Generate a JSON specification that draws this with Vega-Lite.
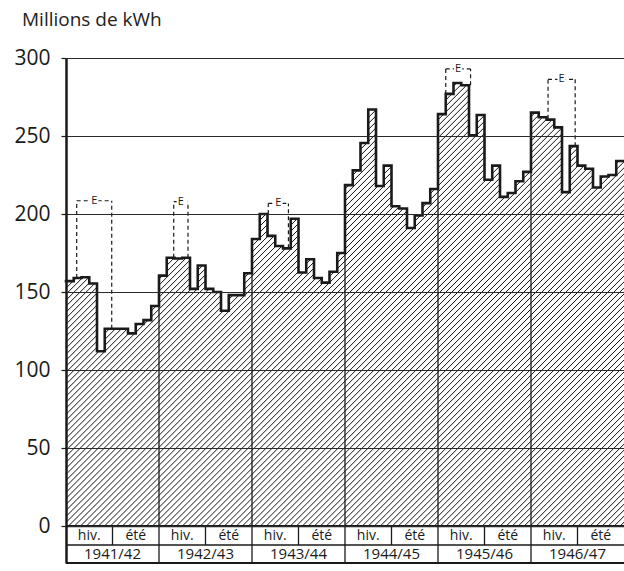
{
"$schema": "https://vega.github.io/schema/vega-lite/v6.json",
"width": 558,
"height": 505,
"autosize": {"type": "none"},
"padding": {"left": 66, "top": 58, "right": 0, "bottom": 8},
"background": "white",
"config": {"view": {"stroke": null}, "font": "Open Sans"},
"title": {"text": "Millions de kWh", "anchor": "start", "frame": "group", "dx": -44, "offset": 17, "fontSize": 19, "fontWeight": "normal", "color": "#222", "font": "Open Sans"},
"datasets": {
"months": [
{"month":"1941-10","start":0,"end":1,"value":157},
{"month":"1941-11","start":1,"end":2,"value":159},
{"month":"1941-12","start":2,"end":3,"value":159.5},
{"month":"1942-01","start":3,"end":4,"value":155.5},
{"month":"1942-02","start":4,"end":5,"value":112},
{"month":"1942-03","start":5,"end":6,"value":126.5},
{"month":"1942-04","start":6,"end":7,"value":126.5},
{"month":"1942-05","start":7,"end":8,"value":126.5},
{"month":"1942-06","start":8,"end":9,"value":123.5},
{"month":"1942-07","start":9,"end":10,"value":129.5},
{"month":"1942-08","start":10,"end":11,"value":132},
{"month":"1942-09","start":11,"end":12,"value":141},
{"month":"1942-10","start":12,"end":13,"value":160.5},
{"month":"1942-11","start":13,"end":14,"value":172},
{"month":"1942-12","start":14,"end":15,"value":171.5},
{"month":"1943-01","start":15,"end":16,"value":172},
{"month":"1943-02","start":16,"end":17,"value":152},
{"month":"1943-03","start":17,"end":18,"value":167},
{"month":"1943-04","start":18,"end":19,"value":152},
{"month":"1943-05","start":19,"end":20,"value":150},
{"month":"1943-06","start":20,"end":21,"value":138},
{"month":"1943-07","start":21,"end":22,"value":148},
{"month":"1943-08","start":22,"end":23,"value":148},
{"month":"1943-09","start":23,"end":24,"value":162},
{"month":"1943-10","start":24,"end":25,"value":184},
{"month":"1943-11","start":25,"end":26,"value":200},
{"month":"1943-12","start":26,"end":27,"value":186},
{"month":"1944-01","start":27,"end":28,"value":179.5},
{"month":"1944-02","start":28,"end":29,"value":178},
{"month":"1944-03","start":29,"end":30,"value":197},
{"month":"1944-04","start":30,"end":31,"value":162.5},
{"month":"1944-05","start":31,"end":32,"value":171},
{"month":"1944-06","start":32,"end":33,"value":159},
{"month":"1944-07","start":33,"end":34,"value":156},
{"month":"1944-08","start":34,"end":35,"value":163},
{"month":"1944-09","start":35,"end":36,"value":175},
{"month":"1944-10","start":36,"end":37,"value":218.5},
{"month":"1944-11","start":37,"end":38,"value":228},
{"month":"1944-12","start":38,"end":39,"value":245.5},
{"month":"1945-01","start":39,"end":40,"value":267},
{"month":"1945-02","start":40,"end":41,"value":218},
{"month":"1945-03","start":41,"end":42,"value":231},
{"month":"1945-04","start":42,"end":43,"value":205},
{"month":"1945-05","start":43,"end":44,"value":203.5},
{"month":"1945-06","start":44,"end":45,"value":191},
{"month":"1945-07","start":45,"end":46,"value":199},
{"month":"1945-08","start":46,"end":47,"value":207},
{"month":"1945-09","start":47,"end":48,"value":216},
{"month":"1945-10","start":48,"end":49,"value":264},
{"month":"1945-11","start":49,"end":50,"value":277},
{"month":"1945-12","start":50,"end":51,"value":284},
{"month":"1946-01","start":51,"end":52,"value":282.5},
{"month":"1946-02","start":52,"end":53,"value":250.5},
{"month":"1946-03","start":53,"end":54,"value":263.5},
{"month":"1946-04","start":54,"end":55,"value":222},
{"month":"1946-05","start":55,"end":56,"value":231},
{"month":"1946-06","start":56,"end":57,"value":211},
{"month":"1946-07","start":57,"end":58,"value":213.5},
{"month":"1946-08","start":58,"end":59,"value":221},
{"month":"1946-09","start":59,"end":60,"value":227},
{"month":"1946-10","start":60,"end":61,"value":265},
{"month":"1946-11","start":61,"end":62,"value":262},
{"month":"1946-12","start":62,"end":63,"value":260.5},
{"month":"1947-01","start":63,"end":64,"value":255.5},
{"month":"1947-02","start":64,"end":65,"value":214},
{"month":"1947-03","start":65,"end":66,"value":243.5},
{"month":"1947-04","start":66,"end":67,"value":231},
{"month":"1947-05","start":67,"end":68,"value":229},
{"month":"1947-06","start":68,"end":69,"value":217},
{"month":"1947-07","start":69,"end":70,"value":224},
{"month":"1947-08","start":70,"end":71,"value":225},
{"month":"1947-09","start":71,"end":72,"value":234}
],
"years": [
{"year":"1941/42","mid":6,"hiv":3,"ete":9},
{"year":"1942/43","mid":18,"hiv":15,"ete":21},
{"year":"1943/44","mid":30,"hiv":27,"ete":33},
{"year":"1944/45","mid":42,"hiv":39,"ete":45},
{"year":"1945/46","mid":54,"hiv":51,"ete":57},
{"year":"1946/47","mid":66,"hiv":63,"ete":69}
],
"bounds": [
{"x":12,"top":141},
{"x":24,"top":162},
{"x":36,"top":175},
{"x":48,"top":216},
{"x":60,"top":227}
],
"ebox": [
{"x1":1.38,"x2":5.9,"xm":3.64,"top":208.5,"b1":159,"b2":126.5},
{"x1":13.9,"x2":15.74,"xm":14.82,"top":207.9,"b1":172,"b2":172},
{"x1":26.1,"x2":28.7,"xm":27.4,"top":206.8,"b1":200,"b2":178},
{"x1":49.0,"x2":52.2,"xm":50.6,"top":293,"b1":277,"b2":282.5},
{"x1":62.2,"x2":65.7,"xm":63.95,"top":286.3,"b1":261,"b2":243.5}
]
},
"layer": [
{
"data": {"name": "months"},
"transform": [{"fold": ["start", "end"], "as": ["edge", "x"]}],
"mark": {"type": "area", "orient": "vertical", "line": false, "opacity": 1, "fill": {"gradient": "linear", "x1": 0, "y1": 0, "x2": 1.1, "y2": 0.872, "stops": [
{"offset":0,"color":"#fff"},{"offset":0.001,"color":"#111"},{"offset":0.002,"color":"#fff"},
{"offset":0.006,"color":"#fff"},{"offset":0.007,"color":"#111"},{"offset":0.008,"color":"#fff"},
{"offset":0.012,"color":"#fff"},{"offset":0.013,"color":"#111"},{"offset":0.014,"color":"#fff"},
{"offset":0.018,"color":"#fff"},{"offset":0.019,"color":"#111"},{"offset":0.02,"color":"#fff"},
{"offset":0.024,"color":"#fff"},{"offset":0.025,"color":"#111"},{"offset":0.026,"color":"#fff"},
{"offset":0.03,"color":"#fff"},{"offset":0.031,"color":"#111"},{"offset":0.032,"color":"#fff"},
{"offset":0.036,"color":"#fff"},{"offset":0.037,"color":"#111"},{"offset":0.038,"color":"#fff"},
{"offset":0.042,"color":"#fff"},{"offset":0.043,"color":"#111"},{"offset":0.044,"color":"#fff"},
{"offset":0.048,"color":"#fff"},{"offset":0.049,"color":"#111"},{"offset":0.05,"color":"#fff"},
{"offset":0.054,"color":"#fff"},{"offset":0.055,"color":"#111"},{"offset":0.056,"color":"#fff"},
{"offset":0.06,"color":"#fff"},{"offset":0.061,"color":"#111"},{"offset":0.062,"color":"#fff"},
{"offset":0.066,"color":"#fff"},{"offset":0.067,"color":"#111"},{"offset":0.068,"color":"#fff"},
{"offset":0.072,"color":"#fff"},{"offset":0.073,"color":"#111"},{"offset":0.074,"color":"#fff"},
{"offset":0.078,"color":"#fff"},{"offset":0.079,"color":"#111"},{"offset":0.08,"color":"#fff"},
{"offset":0.084,"color":"#fff"},{"offset":0.085,"color":"#111"},{"offset":0.086,"color":"#fff"},
{"offset":0.09,"color":"#fff"},{"offset":0.091,"color":"#111"},{"offset":0.092,"color":"#fff"},
{"offset":0.096,"color":"#fff"},{"offset":0.097,"color":"#111"},{"offset":0.098,"color":"#fff"},
{"offset":0.102,"color":"#fff"},{"offset":0.103,"color":"#111"},{"offset":0.104,"color":"#fff"},
{"offset":0.108,"color":"#fff"},{"offset":0.109,"color":"#111"},{"offset":0.11,"color":"#fff"},
{"offset":0.114,"color":"#fff"},{"offset":0.115,"color":"#111"},{"offset":0.116,"color":"#fff"},
{"offset":0.12,"color":"#fff"},{"offset":0.121,"color":"#111"},{"offset":0.122,"color":"#fff"},
{"offset":0.126,"color":"#fff"},{"offset":0.127,"color":"#111"},{"offset":0.128,"color":"#fff"},
{"offset":0.132,"color":"#fff"},{"offset":0.133,"color":"#111"},{"offset":0.134,"color":"#fff"},
{"offset":0.138,"color":"#fff"},{"offset":0.139,"color":"#111"},{"offset":0.14,"color":"#fff"},
{"offset":0.144,"color":"#fff"},{"offset":0.145,"color":"#111"},{"offset":0.146,"color":"#fff"},
{"offset":0.15,"color":"#fff"},{"offset":0.151,"color":"#111"},{"offset":0.152,"color":"#fff"},
{"offset":0.156,"color":"#fff"},{"offset":0.157,"color":"#111"},{"offset":0.158,"color":"#fff"},
{"offset":0.162,"color":"#fff"},{"offset":0.163,"color":"#111"},{"offset":0.164,"color":"#fff"},
{"offset":0.168,"color":"#fff"},{"offset":0.169,"color":"#111"},{"offset":0.17,"color":"#fff"},
{"offset":0.174,"color":"#fff"},{"offset":0.175,"color":"#111"},{"offset":0.176,"color":"#fff"},
{"offset":0.18,"color":"#fff"},{"offset":0.181,"color":"#111"},{"offset":0.182,"color":"#fff"},
{"offset":0.186,"color":"#fff"},{"offset":0.187,"color":"#111"},{"offset":0.188,"color":"#fff"},
{"offset":0.192,"color":"#fff"},{"offset":0.193,"color":"#111"},{"offset":0.194,"color":"#fff"},
{"offset":0.198,"color":"#fff"},{"offset":0.199,"color":"#111"},{"offset":0.2,"color":"#fff"},
{"offset":0.204,"color":"#fff"},{"offset":0.205,"color":"#111"},{"offset":0.206,"color":"#fff"},
{"offset":0.21,"color":"#fff"},{"offset":0.211,"color":"#111"},{"offset":0.212,"color":"#fff"},
{"offset":0.216,"color":"#fff"},{"offset":0.217,"color":"#111"},{"offset":0.218,"color":"#fff"},
{"offset":0.222,"color":"#fff"},{"offset":0.223,"color":"#111"},{"offset":0.224,"color":"#fff"},
{"offset":0.228,"color":"#fff"},{"offset":0.229,"color":"#111"},{"offset":0.23,"color":"#fff"},
{"offset":0.234,"color":"#fff"},{"offset":0.235,"color":"#111"},{"offset":0.236,"color":"#fff"},
{"offset":0.24,"color":"#fff"},{"offset":0.241,"color":"#111"},{"offset":0.242,"color":"#fff"},
{"offset":0.246,"color":"#fff"},{"offset":0.247,"color":"#111"},{"offset":0.248,"color":"#fff"},
{"offset":0.252,"color":"#fff"},{"offset":0.253,"color":"#111"},{"offset":0.254,"color":"#fff"},
{"offset":0.258,"color":"#fff"},{"offset":0.259,"color":"#111"},{"offset":0.26,"color":"#fff"},
{"offset":0.264,"color":"#fff"},{"offset":0.265,"color":"#111"},{"offset":0.266,"color":"#fff"},
{"offset":0.27,"color":"#fff"},{"offset":0.271,"color":"#111"},{"offset":0.272,"color":"#fff"},
{"offset":0.276,"color":"#fff"},{"offset":0.277,"color":"#111"},{"offset":0.278,"color":"#fff"},
{"offset":0.282,"color":"#fff"},{"offset":0.283,"color":"#111"},{"offset":0.284,"color":"#fff"},
{"offset":0.288,"color":"#fff"},{"offset":0.289,"color":"#111"},{"offset":0.29,"color":"#fff"},
{"offset":0.294,"color":"#fff"},{"offset":0.295,"color":"#111"},{"offset":0.296,"color":"#fff"},
{"offset":0.3,"color":"#fff"},{"offset":0.301,"color":"#111"},{"offset":0.302,"color":"#fff"},
{"offset":0.306,"color":"#fff"},{"offset":0.307,"color":"#111"},{"offset":0.308,"color":"#fff"},
{"offset":0.312,"color":"#fff"},{"offset":0.313,"color":"#111"},{"offset":0.314,"color":"#fff"},
{"offset":0.318,"color":"#fff"},{"offset":0.319,"color":"#111"},{"offset":0.32,"color":"#fff"},
{"offset":0.324,"color":"#fff"},{"offset":0.325,"color":"#111"},{"offset":0.326,"color":"#fff"},
{"offset":0.33,"color":"#fff"},{"offset":0.331,"color":"#111"},{"offset":0.332,"color":"#fff"},
{"offset":0.336,"color":"#fff"},{"offset":0.337,"color":"#111"},{"offset":0.338,"color":"#fff"},
{"offset":0.342,"color":"#fff"},{"offset":0.343,"color":"#111"},{"offset":0.344,"color":"#fff"},
{"offset":0.348,"color":"#fff"},{"offset":0.349,"color":"#111"},{"offset":0.35,"color":"#fff"},
{"offset":0.354,"color":"#fff"},{"offset":0.355,"color":"#111"},{"offset":0.356,"color":"#fff"},
{"offset":0.36,"color":"#fff"},{"offset":0.361,"color":"#111"},{"offset":0.362,"color":"#fff"},
{"offset":0.366,"color":"#fff"},{"offset":0.367,"color":"#111"},{"offset":0.368,"color":"#fff"},
{"offset":0.372,"color":"#fff"},{"offset":0.373,"color":"#111"},{"offset":0.374,"color":"#fff"},
{"offset":0.378,"color":"#fff"},{"offset":0.379,"color":"#111"},{"offset":0.38,"color":"#fff"},
{"offset":0.384,"color":"#fff"},{"offset":0.385,"color":"#111"},{"offset":0.386,"color":"#fff"},
{"offset":0.39,"color":"#fff"},{"offset":0.391,"color":"#111"},{"offset":0.392,"color":"#fff"},
{"offset":0.396,"color":"#fff"},{"offset":0.397,"color":"#111"},{"offset":0.398,"color":"#fff"},
{"offset":0.402,"color":"#fff"},{"offset":0.403,"color":"#111"},{"offset":0.404,"color":"#fff"},
{"offset":0.408,"color":"#fff"},{"offset":0.409,"color":"#111"},{"offset":0.41,"color":"#fff"},
{"offset":0.414,"color":"#fff"},{"offset":0.415,"color":"#111"},{"offset":0.416,"color":"#fff"},
{"offset":0.42,"color":"#fff"},{"offset":0.421,"color":"#111"},{"offset":0.422,"color":"#fff"},
{"offset":0.426,"color":"#fff"},{"offset":0.427,"color":"#111"},{"offset":0.428,"color":"#fff"},
{"offset":0.432,"color":"#fff"},{"offset":0.433,"color":"#111"},{"offset":0.434,"color":"#fff"},
{"offset":0.438,"color":"#fff"},{"offset":0.439,"color":"#111"},{"offset":0.44,"color":"#fff"},
{"offset":0.444,"color":"#fff"},{"offset":0.445,"color":"#111"},{"offset":0.446,"color":"#fff"},
{"offset":0.45,"color":"#fff"},{"offset":0.451,"color":"#111"},{"offset":0.452,"color":"#fff"},
{"offset":0.456,"color":"#fff"},{"offset":0.457,"color":"#111"},{"offset":0.458,"color":"#fff"},
{"offset":0.462,"color":"#fff"},{"offset":0.463,"color":"#111"},{"offset":0.464,"color":"#fff"},
{"offset":0.468,"color":"#fff"},{"offset":0.469,"color":"#111"},{"offset":0.47,"color":"#fff"},
{"offset":0.474,"color":"#fff"},{"offset":0.475,"color":"#111"},{"offset":0.476,"color":"#fff"},
{"offset":0.48,"color":"#fff"},{"offset":0.481,"color":"#111"},{"offset":0.482,"color":"#fff"},
{"offset":0.486,"color":"#fff"},{"offset":0.487,"color":"#111"},{"offset":0.488,"color":"#fff"},
{"offset":0.492,"color":"#fff"},{"offset":0.493,"color":"#111"},{"offset":0.494,"color":"#fff"},
{"offset":0.498,"color":"#fff"},{"offset":0.499,"color":"#111"},{"offset":0.5,"color":"#fff"},
{"offset":0.504,"color":"#fff"},{"offset":0.505,"color":"#111"},{"offset":0.506,"color":"#fff"},
{"offset":0.51,"color":"#fff"},{"offset":0.511,"color":"#111"},{"offset":0.512,"color":"#fff"},
{"offset":0.516,"color":"#fff"},{"offset":0.517,"color":"#111"},{"offset":0.518,"color":"#fff"},
{"offset":0.522,"color":"#fff"},{"offset":0.523,"color":"#111"},{"offset":0.524,"color":"#fff"},
{"offset":0.528,"color":"#fff"},{"offset":0.529,"color":"#111"},{"offset":0.53,"color":"#fff"},
{"offset":0.534,"color":"#fff"},{"offset":0.535,"color":"#111"},{"offset":0.536,"color":"#fff"},
{"offset":0.54,"color":"#fff"},{"offset":0.541,"color":"#111"},{"offset":0.542,"color":"#fff"},
{"offset":0.546,"color":"#fff"},{"offset":0.547,"color":"#111"},{"offset":0.548,"color":"#fff"},
{"offset":0.552,"color":"#fff"},{"offset":0.553,"color":"#111"},{"offset":0.554,"color":"#fff"},
{"offset":0.558,"color":"#fff"},{"offset":0.559,"color":"#111"},{"offset":0.56,"color":"#fff"},
{"offset":0.564,"color":"#fff"},{"offset":0.565,"color":"#111"},{"offset":0.566,"color":"#fff"},
{"offset":0.57,"color":"#fff"},{"offset":0.571,"color":"#111"},{"offset":0.572,"color":"#fff"},
{"offset":0.576,"color":"#fff"},{"offset":0.577,"color":"#111"},{"offset":0.578,"color":"#fff"},
{"offset":0.582,"color":"#fff"},{"offset":0.583,"color":"#111"},{"offset":0.584,"color":"#fff"},
{"offset":0.588,"color":"#fff"},{"offset":0.589,"color":"#111"},{"offset":0.59,"color":"#fff"},
{"offset":0.594,"color":"#fff"},{"offset":0.595,"color":"#111"},{"offset":0.596,"color":"#fff"},
{"offset":0.6,"color":"#fff"},{"offset":0.601,"color":"#111"},{"offset":0.602,"color":"#fff"},
{"offset":0.606,"color":"#fff"},{"offset":0.607,"color":"#111"},{"offset":0.608,"color":"#fff"},
{"offset":0.612,"color":"#fff"},{"offset":0.613,"color":"#111"},{"offset":0.614,"color":"#fff"},
{"offset":0.618,"color":"#fff"},{"offset":0.619,"color":"#111"},{"offset":0.62,"color":"#fff"},
{"offset":0.624,"color":"#fff"},{"offset":0.625,"color":"#111"},{"offset":0.626,"color":"#fff"},
{"offset":0.63,"color":"#fff"},{"offset":0.631,"color":"#111"},{"offset":0.632,"color":"#fff"},
{"offset":0.636,"color":"#fff"},{"offset":0.637,"color":"#111"},{"offset":0.638,"color":"#fff"},
{"offset":0.642,"color":"#fff"},{"offset":0.643,"color":"#111"},{"offset":0.644,"color":"#fff"},
{"offset":0.648,"color":"#fff"},{"offset":0.649,"color":"#111"},{"offset":0.65,"color":"#fff"},
{"offset":0.654,"color":"#fff"},{"offset":0.655,"color":"#111"},{"offset":0.656,"color":"#fff"},
{"offset":0.66,"color":"#fff"},{"offset":0.661,"color":"#111"},{"offset":0.662,"color":"#fff"},
{"offset":0.666,"color":"#fff"},{"offset":0.667,"color":"#111"},{"offset":0.668,"color":"#fff"},
{"offset":0.672,"color":"#fff"},{"offset":0.673,"color":"#111"},{"offset":0.674,"color":"#fff"},
{"offset":0.678,"color":"#fff"},{"offset":0.679,"color":"#111"},{"offset":0.68,"color":"#fff"},
{"offset":0.684,"color":"#fff"},{"offset":0.685,"color":"#111"},{"offset":0.686,"color":"#fff"},
{"offset":0.69,"color":"#fff"},{"offset":0.691,"color":"#111"},{"offset":0.692,"color":"#fff"},
{"offset":0.696,"color":"#fff"},{"offset":0.697,"color":"#111"},{"offset":0.698,"color":"#fff"},
{"offset":0.702,"color":"#fff"},{"offset":0.703,"color":"#111"},{"offset":0.704,"color":"#fff"},
{"offset":0.708,"color":"#fff"},{"offset":0.709,"color":"#111"},{"offset":0.71,"color":"#fff"},
{"offset":0.714,"color":"#fff"},{"offset":0.715,"color":"#111"},{"offset":0.716,"color":"#fff"},
{"offset":0.72,"color":"#fff"},{"offset":0.721,"color":"#111"},{"offset":0.722,"color":"#fff"},
{"offset":0.726,"color":"#fff"},{"offset":0.727,"color":"#111"},{"offset":0.728,"color":"#fff"},
{"offset":0.732,"color":"#fff"},{"offset":0.733,"color":"#111"},{"offset":0.734,"color":"#fff"},
{"offset":0.738,"color":"#fff"},{"offset":0.739,"color":"#111"},{"offset":0.74,"color":"#fff"},
{"offset":0.744,"color":"#fff"},{"offset":0.745,"color":"#111"},{"offset":0.746,"color":"#fff"},
{"offset":0.75,"color":"#fff"},{"offset":0.751,"color":"#111"},{"offset":0.752,"color":"#fff"},
{"offset":0.756,"color":"#fff"},{"offset":0.757,"color":"#111"},{"offset":0.758,"color":"#fff"},
{"offset":0.762,"color":"#fff"},{"offset":0.763,"color":"#111"},{"offset":0.764,"color":"#fff"},
{"offset":0.768,"color":"#fff"},{"offset":0.769,"color":"#111"},{"offset":0.77,"color":"#fff"},
{"offset":0.774,"color":"#fff"},{"offset":0.775,"color":"#111"},{"offset":0.776,"color":"#fff"},
{"offset":0.78,"color":"#fff"},{"offset":0.781,"color":"#111"},{"offset":0.782,"color":"#fff"},
{"offset":0.786,"color":"#fff"},{"offset":0.787,"color":"#111"},{"offset":0.788,"color":"#fff"},
{"offset":0.792,"color":"#fff"},{"offset":0.793,"color":"#111"},{"offset":0.794,"color":"#fff"},
{"offset":0.798,"color":"#fff"},{"offset":0.799,"color":"#111"},{"offset":0.8,"color":"#fff"},
{"offset":0.804,"color":"#fff"},{"offset":0.805,"color":"#111"},{"offset":0.806,"color":"#fff"},
{"offset":0.81,"color":"#fff"},{"offset":0.811,"color":"#111"},{"offset":0.812,"color":"#fff"},
{"offset":0.816,"color":"#fff"},{"offset":0.817,"color":"#111"},{"offset":0.818,"color":"#fff"},
{"offset":0.822,"color":"#fff"},{"offset":0.823,"color":"#111"},{"offset":0.824,"color":"#fff"},
{"offset":0.828,"color":"#fff"},{"offset":0.829,"color":"#111"},{"offset":0.83,"color":"#fff"},
{"offset":0.834,"color":"#fff"},{"offset":0.835,"color":"#111"},{"offset":0.836,"color":"#fff"},
{"offset":0.84,"color":"#fff"},{"offset":0.841,"color":"#111"},{"offset":0.842,"color":"#fff"},
{"offset":0.846,"color":"#fff"},{"offset":0.847,"color":"#111"},{"offset":0.848,"color":"#fff"},
{"offset":0.852,"color":"#fff"},{"offset":0.853,"color":"#111"},{"offset":0.854,"color":"#fff"},
{"offset":0.858,"color":"#fff"},{"offset":0.859,"color":"#111"},{"offset":0.86,"color":"#fff"},
{"offset":0.864,"color":"#fff"},{"offset":0.865,"color":"#111"},{"offset":0.866,"color":"#fff"},
{"offset":0.87,"color":"#fff"},{"offset":0.871,"color":"#111"},{"offset":0.872,"color":"#fff"},
{"offset":0.876,"color":"#fff"},{"offset":0.877,"color":"#111"},{"offset":0.878,"color":"#fff"},
{"offset":0.882,"color":"#fff"},{"offset":0.883,"color":"#111"},{"offset":0.884,"color":"#fff"},
{"offset":0.888,"color":"#fff"},{"offset":0.889,"color":"#111"},{"offset":0.89,"color":"#fff"},
{"offset":0.894,"color":"#fff"},{"offset":0.895,"color":"#111"},{"offset":0.896,"color":"#fff"},
{"offset":0.9,"color":"#fff"},{"offset":0.901,"color":"#111"},{"offset":0.902,"color":"#fff"},
{"offset":0.906,"color":"#fff"},{"offset":0.907,"color":"#111"},{"offset":0.908,"color":"#fff"},
{"offset":0.912,"color":"#fff"},{"offset":0.913,"color":"#111"},{"offset":0.914,"color":"#fff"},
{"offset":0.918,"color":"#fff"},{"offset":0.919,"color":"#111"},{"offset":0.92,"color":"#fff"},
{"offset":0.924,"color":"#fff"},{"offset":0.925,"color":"#111"},{"offset":0.926,"color":"#fff"},
{"offset":0.93,"color":"#fff"},{"offset":0.931,"color":"#111"},{"offset":0.932,"color":"#fff"},
{"offset":0.936,"color":"#fff"},{"offset":0.937,"color":"#111"},{"offset":0.938,"color":"#fff"},
{"offset":0.942,"color":"#fff"},{"offset":0.943,"color":"#111"},{"offset":0.944,"color":"#fff"},
{"offset":0.948,"color":"#fff"},{"offset":0.949,"color":"#111"},{"offset":0.95,"color":"#fff"},
{"offset":0.954,"color":"#fff"},{"offset":0.955,"color":"#111"},{"offset":0.956,"color":"#fff"},
{"offset":0.96,"color":"#fff"},{"offset":0.961,"color":"#111"},{"offset":0.962,"color":"#fff"},
{"offset":0.966,"color":"#fff"},{"offset":0.967,"color":"#111"},{"offset":0.968,"color":"#fff"},
{"offset":0.972,"color":"#fff"},{"offset":0.973,"color":"#111"},{"offset":0.974,"color":"#fff"},
{"offset":0.978,"color":"#fff"},{"offset":0.979,"color":"#111"},{"offset":0.98,"color":"#fff"},
{"offset":0.984,"color":"#fff"},{"offset":0.985,"color":"#111"},{"offset":0.986,"color":"#fff"},
{"offset":0.99,"color":"#fff"},{"offset":0.991,"color":"#111"},{"offset":0.992,"color":"#fff"},
{"offset":0.996,"color":"#fff"},{"offset":0.997,"color":"#111"},{"offset":0.998,"color":"#fff"}
]}},
"encoding": {
"x": {"field": "x", "type": "quantitative", "scale": {"domain": [0, 72], "nice": false, "zero": false}, "axis": null},
"y": {"field": "value", "type": "quantitative", "stack": null, "scale": {"domain": [-23.7, 300], "nice": false, "zero": false},
"axis": {"title": null, "values": [0, 50, 100, 150, 200, 250, 300], "grid": true, "gridColor": "#2a2a2a", "gridWidth": 1.1, "gridOpacity": 1, "domain": true, "domainColor": "#1a1a1a", "domainWidth": 2.5, "ticks": true, "tickSize": 5, "tickColor": "#1a1a1a", "tickWidth": 1.2, "labelFontSize": 21, "labelFont": "Open Sans", "labelColor": "#1a1a1a", "labelPadding": 11, "labelFlush": false, "labelOverlap": false, "zindex": 1}},
"y2": {"datum": 0}
}
},
{
"data": {"name": "bounds"},
"mark": {"type": "rule", "color": "#1a1a1a", "strokeWidth": 1.3},
"encoding": {
"x": {"field": "x", "type": "quantitative", "axis": null},
"y": {"field": "top", "type": "quantitative"},
"y2": {"datum": -23.7}
}
},
{
"data": {"name": "months"},
"transform": [{"fold": ["start", "end"], "as": ["edge", "x"]}],
"mark": {"type": "line", "color": "#1a1a1a", "strokeWidth": 2.6, "strokeJoin": "miter", "strokeCap": "square"},
"encoding": {
"x": {"field": "x", "type": "quantitative", "axis": null},
"y": {"field": "value", "type": "quantitative"},
"order": {"field": "x", "type": "quantitative"}
}
},
{
"data": {"values": [{}]},
"mark": {"type": "rule", "color": "#1a1a1a", "strokeWidth": 2.2},
"encoding": {"y": {"datum": 0, "type": "quantitative"}}
},
{
"data": {"values": [{}]},
"mark": {"type": "rule", "color": "#1a1a1a", "strokeWidth": 1.5},
"encoding": {"y": {"datum": -12.2, "type": "quantitative"}}
},
{
"data": {"values": [{}]},
"mark": {"type": "rule", "color": "#1a1a1a", "strokeWidth": 2},
"encoding": {"y": {"datum": -23.7, "type": "quantitative"}}
},
{
"data": {"name": "years"},
"mark": {"type": "rule", "color": "#1a1a1a", "strokeWidth": 1.3},
"encoding": {
"x": {"field": "mid", "type": "quantitative", "axis": null},
"y": {"datum": 0, "type": "quantitative"},
"y2": {"datum": -12.2}
}
},
{
"data": {"name": "years"},
"mark": {"type": "text", "fontSize": 14, "font": "Open Sans", "color": "#1a1a1a", "baseline": "middle", "align": "center"},
"encoding": {
"x": {"field": "hiv", "type": "quantitative", "axis": null},
"y": {"datum": -6.1, "type": "quantitative"},
"text": {"value": "hiv."}
}
},
{
"data": {"name": "years"},
"mark": {"type": "text", "fontSize": 14, "font": "Open Sans", "color": "#1a1a1a", "baseline": "middle", "align": "center"},
"encoding": {
"x": {"field": "ete", "type": "quantitative", "axis": null},
"y": {"datum": -6.1, "type": "quantitative"},
"text": {"value": "été"}
}
},
{
"data": {"name": "years"},
"mark": {"type": "text", "fontSize": 15, "font": "Open Sans", "color": "#1a1a1a", "baseline": "middle", "align": "center"},
"encoding": {
"x": {"field": "mid", "type": "quantitative", "axis": null},
"y": {"datum": -17.95, "type": "quantitative"},
"text": {"field": "year"}
}
},
{
"data": {"name": "ebox"},
"mark": {"type": "rule", "color": "#1a1a1a", "strokeWidth": 1.2, "strokeDash": [4, 3]},
"encoding": {
"x": {"field": "x1", "type": "quantitative", "axis": null},
"y": {"field": "b1", "type": "quantitative"},
"y2": {"field": "top"}
}
},
{
"data": {"name": "ebox"},
"mark": {"type": "rule", "color": "#1a1a1a", "strokeWidth": 1.2, "strokeDash": [4, 3]},
"encoding": {
"x": {"field": "x2", "type": "quantitative", "axis": null},
"y": {"field": "b2", "type": "quantitative"},
"y2": {"field": "top"}
}
},
{
"data": {"name": "ebox"},
"mark": {"type": "rule", "color": "#1a1a1a", "strokeWidth": 1.2, "strokeDash": [4, 3]},
"encoding": {
"x": {"field": "x1", "type": "quantitative", "axis": null},
"x2": {"field": "x2"},
"y": {"field": "top", "type": "quantitative"}
}
},
{
"data": {"name": "ebox"},
"mark": {"type": "point", "shape": "square", "filled": true, "color": "white", "opacity": 1, "size": 70},
"encoding": {
"x": {"field": "xm", "type": "quantitative", "axis": null},
"y": {"field": "top", "type": "quantitative"}
}
},
{
"data": {"name": "ebox"},
"mark": {"type": "text", "fontSize": 11, "font": "Open Sans", "color": "#1a1a1a", "baseline": "middle", "align": "center"},
"encoding": {
"x": {"field": "xm", "type": "quantitative", "axis": null},
"y": {"field": "top", "type": "quantitative"},
"text": {"value": "E"}
}
}
]
}
